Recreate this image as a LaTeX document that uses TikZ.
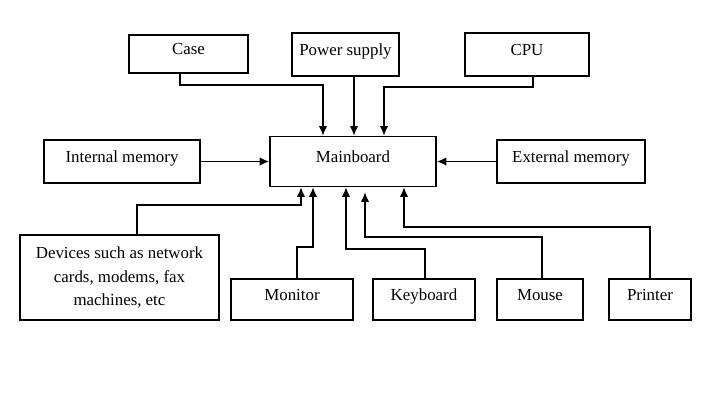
\documentclass[tikz,border=0pt]{standalone}
\usepackage{fontspec}
\setmainfont{Liberation Serif}
\usetikzlibrary{arrows.meta}
\tikzset{box/.style={draw, line width=0.8pt, inner sep=0pt, text height=8pt, text depth=7pt, font=\fontsize{12}{14}\selectfont},
  link/.style={line width=1.3pt},
  arr/.style={link, -{Latex[length=7pt,width=6pt]}}}

\begin{document}
\begin{tikzpicture}[x=0.025cm, y=-0.025cm]
  \useasboundingbox (0,0) rectangle (720,403);

  \node[box, minimum width=2.975cm, minimum height=0.95cm] (case)  at (188.5, 54)  {Case};
  \node[box, minimum width=2.675cm, minimum height=1.075cm] (power) at (345.5, 54.5) {Power supply};
  \node[box, minimum width=3.1cm,  minimum height=1.075cm] (cpu)   at (527,  54.5) {CPU};
  \node[box, minimum width=3.9cm,  minimum height=1.075cm] (inmem) at (122, 161.5) {Internal memory};
  \node[box, minimum width=4.15cm, minimum height=1.25cm] (main)  at (353, 161.5) {Mainboard};
  \node[box, minimum width=3.7cm,  minimum height=1.075cm] (exmem) at (571, 161.5) {External memory};
  \node[box, text height=, text depth=, align=center, minimum width=4.975cm, minimum height=2.125cm] (dev) at (119.5, 277.5)
    {Devices such as network\\[3pt] cards, modems, fax\\[3pt] machines, etc};
  \node[box, minimum width=3.05cm, minimum height=1.025cm] (mon)   at (292, 299.5) {Monitor};
  \node[box, minimum width=2.55cm, minimum height=1.025cm] (kbd)   at (424, 299.5) {Keyboard};
  \node[box, minimum width=2.15cm, minimum height=1.025cm] (mouse) at (540, 299.5) {Mouse};
  \node[box, minimum width=2.05cm, minimum height=1.025cm] (prn)   at (650, 299.5) {Printer};

  % bends
  \coordinate (c1) at (180, 85);
  \coordinate (c2) at (323, 85);
  \coordinate (p1) at (533, 87);
  \coordinate (p2) at (384, 87);
  \coordinate (d1) at (137, 205);
  \coordinate (d2) at (301, 205);
  \coordinate (m1) at (297, 247);
  \coordinate (m2) at (313, 247);
  \coordinate (k1) at (425, 249);
  \coordinate (k2) at (346, 249);
  \coordinate (u1) at (542, 237);
  \coordinate (u2) at (365, 237);
  \coordinate (u3) at (365, 192);
  \coordinate (r1) at (650, 227);
  \coordinate (r2) at (404, 227);

  \draw[arr] (case.south -| c1) -- (c1) -- (c2) -- (main.north -| c2);
  \draw[arr] (power.south -| 354,0) -- (main.north -| 354,0);
  \draw[arr] (cpu.south -| p1) -- (p1) -- (p2) -- (main.north -| p2);
  \draw[arr] (inmem.east) -- (main.west |- inmem.east);
  \draw[arr] (exmem.west) -- (main.east |- exmem.west);
  \draw[arr] (dev.north -| d1) -- (d1) -- (d2) -- (main.south -| d2);
  \draw[arr] (mon.north -| m1) -- (m1) -- (m2) -- (main.south -| m2);
  \draw[arr] (kbd.north -| k1) -- (k1) -- (k2) -- (main.south -| k2);
  \draw[arr] (mouse.north -| u1) -- (u1) -- (u2) -- (u3);
  \draw[arr] (prn.north -| r1) -- (r1) -- (r2) -- (main.south -| r2);
\end{tikzpicture}
\end{document}
